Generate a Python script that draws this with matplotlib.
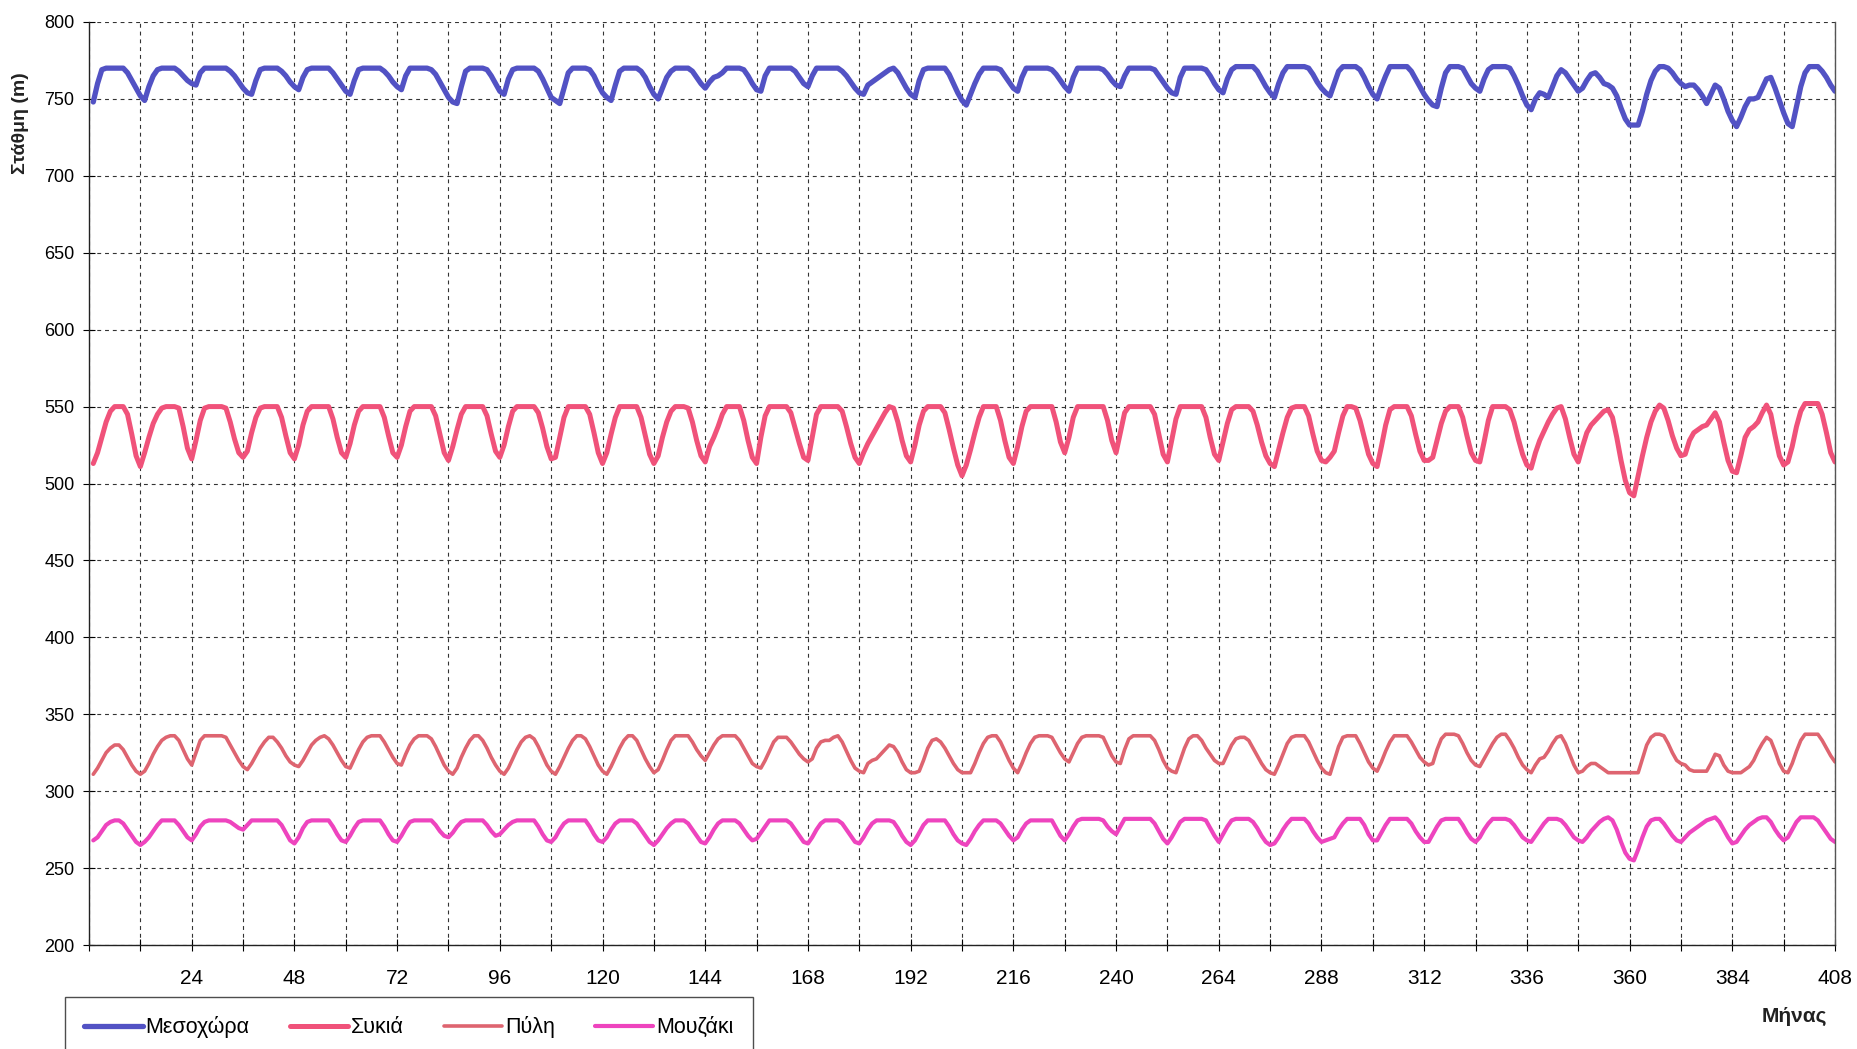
import numpy as np
import matplotlib
matplotlib.use("Agg")
import matplotlib.pyplot as plt
from matplotlib.ticker import MultipleLocator, FixedLocator

plt.rcParams['font.family'] = ['Liberation Sans', 'DejaVu Sans']

SERIES_NAMES = ["Μεσοχώρα", "Συκιά", "Πύλη", "Μουζάκι"]
X_TICKS = [24, 48, 72, 96, 120, 144, 168, 192, 216, 240, 264, 288, 312, 336, 360, 384, 408]
Y_TICKS = [200, 250, 300, 350, 400, 450, 500, 550, 600, 650, 700, 750, 800]

MESOCHORA = [
    748, 760, 769, 770, 770, 770, 770, 770, 767, 762, 757, 752,
    749, 758, 765, 769, 770, 770, 770, 770, 768, 765, 762, 760,
    759, 767, 770, 770, 770, 770, 770, 770, 768, 765, 761, 757,
    754, 753, 762, 769, 770, 770, 770, 770, 768, 765, 761, 758,
    756, 764, 769, 770, 770, 770, 770, 770, 767, 763, 759, 755,
    753, 762, 769, 770, 770, 770, 770, 770, 768, 765, 761, 758,
    756, 765, 770, 770, 770, 770, 770, 769, 766, 761, 756, 751,
    748, 747, 758, 768, 770, 770, 770, 770, 769, 765, 760, 755,
    753, 763, 769, 770, 770, 770, 770, 770, 768, 763, 757, 751,
    749, 747, 757, 767, 770, 770, 770, 770, 769, 765, 759, 754,
    751, 749, 759, 768, 770, 770, 770, 770, 768, 764, 758, 753,
    750, 757, 764, 768, 770, 770, 770, 770, 768, 764, 760, 757,
    761, 764, 765, 767, 770, 770, 770, 770, 769, 765, 760, 756,
    755, 765, 770, 770, 770, 770, 770, 770, 768, 764, 760, 758,
    765, 770, 770, 770, 770, 770, 770, 768, 765, 761, 757, 754,
    753, 759, 761, 763, 765, 767, 769, 770, 767, 762, 757, 753,
    751, 762, 769, 770, 770, 770, 770, 770, 766, 760, 754, 749,
    746, 753, 760, 766, 770, 770, 770, 770, 769, 765, 761, 757,
    755, 764, 770, 770, 770, 770, 770, 770, 769, 766, 762, 758,
    755, 764, 770, 770, 770, 770, 770, 770, 769, 766, 762, 759,
    758, 765, 770, 770, 770, 770, 770, 770, 769, 765, 761, 757,
    754, 753, 764, 770, 770, 770, 770, 770, 769, 765, 760, 756,
    754, 763, 769, 771, 771, 771, 771, 771, 768, 763, 758, 754,
    751, 760, 767, 771, 771, 771, 771, 771, 770, 766, 761, 757,
    754, 752, 760, 768, 771, 771, 771, 771, 769, 764, 758, 753,
    750, 758, 765, 771, 771, 771, 771, 771, 768, 763, 758, 753,
    749, 746, 745, 757, 767, 771, 771, 771, 770, 765, 760, 757,
    755, 763, 769, 771, 771, 771, 771, 770, 765, 759, 752, 746,
    743, 750, 754, 753, 751, 758, 765, 769, 767, 763, 759, 755,
    757, 762, 766, 767, 764, 760, 759, 757, 752, 744, 737, 733,
    733, 733, 742, 753, 762, 768, 771, 771, 770, 767, 763, 760,
    758, 759, 759, 756, 752, 747, 753, 759, 757, 750, 742, 736,
    732, 738, 745, 750, 750, 751, 757, 763, 764, 757, 749, 741,
    734, 732, 745, 758, 767, 771, 771, 771, 768, 764, 759, 755,
]

SYKIA = [
    513, 520, 530, 540, 547, 550, 550, 550, 545, 532, 518, 511,
    520, 530, 539, 545, 549, 550, 550, 550, 549, 537, 523, 516,
    528, 541, 549, 550, 550, 550, 550, 549, 540, 529, 520, 517,
    521, 533, 543, 549, 550, 550, 550, 550, 543, 531, 520, 516,
    525, 538, 547, 550, 550, 550, 550, 550, 542, 530, 520, 517,
    526, 538, 547, 550, 550, 550, 550, 550, 543, 531, 520, 517,
    525, 537, 547, 550, 550, 550, 550, 550, 544, 532, 520, 515,
    524, 535, 545, 550, 550, 550, 550, 550, 544, 532, 521, 517,
    525, 537, 547, 550, 550, 550, 550, 550, 546, 536, 524, 516,
    517, 530, 543, 550, 550, 550, 550, 550, 545, 533, 520, 513,
    520, 532, 543, 550, 550, 550, 550, 550, 543, 531, 519, 513,
    518, 530, 540, 547, 550, 550, 550, 549, 540, 528, 518, 514,
    524, 530, 537, 545, 550, 550, 550, 550, 541, 528, 517, 513,
    530, 544, 550, 550, 550, 550, 550, 546, 536, 526, 517, 515,
    530, 545, 550, 550, 550, 550, 550, 547, 537, 526, 517, 513,
    520, 526, 531, 536, 541, 546, 550, 549, 540, 528, 518, 514,
    525, 538, 547, 550, 550, 550, 550, 546, 535, 523, 512, 505,
    512, 522, 533, 543, 550, 550, 550, 550, 541, 528, 517, 513,
    524, 537, 547, 550, 550, 550, 550, 550, 550, 540, 527, 520,
    530, 543, 550, 550, 550, 550, 550, 550, 550, 541, 528, 520,
    533, 546, 550, 550, 550, 550, 550, 550, 545, 532, 519, 514,
    528, 542, 550, 550, 550, 550, 550, 550, 543, 530, 519, 515,
    527, 539, 548, 550, 550, 550, 550, 547, 538, 527, 518, 513,
    511, 522, 533, 543, 549, 550, 550, 550, 544, 532, 521, 515,
    514, 517, 521, 533, 544, 550, 550, 549, 541, 530, 519, 513,
    511, 524, 538, 548, 550, 550, 550, 550, 544, 532, 521, 515,
    515, 517, 528, 539, 547, 550, 550, 550, 543, 531, 520, 515,
    514, 527, 541, 550, 550, 550, 550, 548, 540, 529, 519, 512,
    510, 520, 528, 534, 540, 545, 549, 550, 542, 530, 519, 514,
    524, 533, 538, 541, 544, 547, 548, 543, 530, 515, 502, 494,
    492, 505, 518, 530, 540, 547, 551, 549, 541, 531, 523, 518,
    519, 528, 533, 535, 537, 538, 542, 546, 540, 527, 515, 508,
    507, 518, 530, 535, 537, 540, 546, 551, 545, 531, 518, 512,
    514, 524, 537, 547, 552, 552, 552, 552, 545, 533, 520, 514,
]

PYLI = [
    311, 315, 320, 325, 328, 330, 330, 327, 322, 317, 313, 311,
    313, 318, 324, 329, 333, 335, 336, 336, 333, 327, 321, 317,
    325, 333, 336, 336, 336, 336, 336, 335, 330, 325, 320, 316,
    314, 318, 323, 328, 332, 335, 335, 332, 328, 323, 319, 317,
    316, 320, 325, 330, 333, 335, 336, 334, 330, 325, 320, 316,
    315, 321, 327, 332, 335, 336, 336, 336, 332, 327, 322, 318,
    317, 324, 330, 334, 336, 336, 336, 334, 329, 323, 317, 313,
    311, 315, 322, 328, 333, 336, 336, 333, 328, 322, 317, 313,
    311, 315, 321, 327, 332, 335, 336, 334, 329, 323, 317, 313,
    311, 316, 322, 328, 333, 336, 336, 334, 329, 323, 317, 313,
    311, 316, 322, 328, 333, 336, 336, 333, 327, 321, 316, 312,
    314, 320, 327, 333, 336, 336, 336, 336, 332, 327, 323, 320,
    325, 330, 334, 336, 336, 336, 336, 333, 328, 323, 318, 316,
    315, 320, 326, 332, 335, 335, 335, 332, 328, 324, 321, 319,
    321, 328, 332, 333, 333, 335, 336, 332, 326, 320, 315, 313,
    312, 318, 320, 321, 324, 327, 330, 329, 325, 319, 314, 312,
    312, 313, 320, 328, 333, 334, 332, 328, 323, 318, 314, 312,
    312, 312, 318, 325, 331, 335, 336, 336, 332, 326, 320, 315,
    312, 318, 325, 331, 335, 336, 336, 336, 335, 330, 325, 321,
    319, 325, 331, 335, 336, 336, 336, 336, 335, 329, 323, 319,
    318, 327, 334, 336, 336, 336, 336, 336, 333, 327, 320, 315,
    313, 312, 320, 328, 334, 336, 336, 333, 328, 324, 320, 318,
    318, 324, 330, 334, 335, 335, 333, 328, 323, 318, 314, 312,
    311, 317, 324, 331, 335, 336, 336, 336, 332, 326, 320, 315,
    312, 311, 320, 329, 335, 336, 336, 336, 331, 325, 319, 315,
    313, 319, 326, 332, 336, 336, 336, 336, 332, 327, 322, 319,
    317, 318, 327, 334, 337, 337, 337, 336, 331, 325, 320, 317,
    316, 321, 326, 331, 335, 337, 337, 333, 328, 322, 317, 314,
    312, 317, 321, 322, 326, 331, 335, 336, 331, 324, 317, 312,
    313, 316, 318, 318, 316, 314, 312, 312, 312, 312, 312, 312,
    312, 312, 321, 330, 335, 337, 337, 336, 331, 325, 320, 318,
    317, 314, 313, 313, 313, 313, 318, 324, 323, 317, 313, 312,
    312, 312, 314, 316, 320, 326, 331, 335, 333, 326, 318, 313,
    312, 318, 326, 333, 337, 337, 337, 337, 333, 328, 323, 319,
]

MOUZAKI = [
    268, 270, 274, 278, 280, 281, 281, 279, 275, 271, 267, 265,
    267, 270, 274, 278, 281, 281, 281, 281, 278, 274, 270, 268,
    272, 277, 280, 281, 281, 281, 281, 281, 280, 278, 276, 275,
    278, 281, 281, 281, 281, 281, 281, 281, 278, 273, 268, 266,
    270, 276, 280, 281, 281, 281, 281, 281, 277, 272, 268, 267,
    271, 276, 280, 281, 281, 281, 281, 281, 277, 272, 268, 267,
    271, 276, 280, 281, 281, 281, 281, 281, 278, 274, 271, 270,
    273, 277, 280, 281, 281, 281, 281, 281, 278, 274, 271, 272,
    275, 278, 280, 281, 281, 281, 281, 281, 277, 272, 268, 267,
    270, 275, 279, 281, 281, 281, 281, 281, 277, 272, 268, 267,
    270, 275, 279, 281, 281, 281, 281, 279, 275, 271, 267, 265,
    268, 272, 276, 279, 281, 281, 281, 279, 275, 271, 267, 266,
    270, 275, 279, 281, 281, 281, 281, 279, 275, 271, 268, 269,
    273, 277, 281, 281, 281, 281, 281, 279, 275, 271, 267, 266,
    270, 275, 279, 281, 281, 281, 281, 279, 275, 271, 267, 266,
    270, 275, 279, 281, 281, 281, 281, 280, 276, 271, 267, 265,
    268, 273, 278, 281, 281, 281, 281, 281, 277, 272, 268, 266,
    265, 269, 274, 278, 281, 281, 281, 281, 279, 275, 271, 268,
    270, 275, 279, 281, 281, 281, 281, 281, 281, 276, 271, 268,
    272, 277, 281, 282, 282, 282, 282, 282, 281, 277, 274, 272,
    277, 282, 282, 282, 282, 282, 282, 282, 279, 274, 269, 266,
    270, 275, 280, 282, 282, 282, 282, 282, 281, 276, 271, 267,
    272, 277, 281, 282, 282, 282, 282, 280, 276, 271, 267, 265,
    266, 270, 275, 279, 282, 282, 282, 282, 279, 274, 270, 267,
    268, 269, 270, 275, 279, 282, 282, 282, 282, 278, 272, 268,
    268, 273, 278, 282, 282, 282, 282, 282, 279, 274, 270, 267,
    267, 272, 277, 281, 282, 282, 282, 282, 278, 273, 269, 267,
    270, 275, 279, 282, 282, 282, 282, 281, 278, 274, 270, 268,
    267, 271, 275, 279, 282, 282, 282, 281, 278, 274, 270, 268,
    267, 270, 274, 277, 280, 282, 283, 281, 275, 267, 260, 256,
    255, 262, 270, 277, 281, 282, 282, 279, 275, 271, 268, 267,
    270, 273, 275, 277, 279, 281, 282, 283, 280, 275, 270, 266,
    267, 271, 275, 278, 280, 282, 283, 283, 280, 275, 271, 268,
    270, 275, 280, 283, 283, 283, 283, 281, 277, 273, 269, 267,
]

COLORS = ["#5252C4", "#F0527A", "#DE6470", "#EE44BE"]
WIDTHS = [3.8, 3.6, 2.6, 3.0]

fig = plt.figure(figsize=(18.57, 10.49), dpi=100)
ax = fig.add_axes([89 / 1857, 1 - 945 / 1049, (1835 - 89) / 1857, (945 - 22) / 1049])

for name, data, c, lw in zip(SERIES_NAMES, [MESOCHORA, SYKIA, PYLI, MOUZAKI], COLORS, WIDTHS):
    x = np.arange(1, len(data) + 1)
    ax.plot(x, data, color=c, lw=lw, label=name, solid_joinstyle='round', solid_capstyle='round')

ax.set_xlim(0, 408)
ax.set_ylim(200, 800)
ax.xaxis.set_major_locator(FixedLocator(X_TICKS))
ax.xaxis.set_minor_locator(MultipleLocator(12))
ax.yaxis.set_major_locator(FixedLocator(Y_TICKS))
ax.grid(True, which='both', axis='x', linestyle=(0, (3.5, 3.5)), color='#333333', lw=0.8)
ax.grid(True, which='major', axis='y', linestyle=(0, (3.5, 3.5)), color='#333333', lw=0.8)
ax.set_axisbelow(True)

ax.tick_params(axis='x', which='both', direction='inout', length=9, width=0.8, labelsize=15, pad=13)
ax.tick_params(axis='y', which='major', direction='inout', length=9, width=0.8, labelsize=13, pad=6)
for s in ['left', 'bottom']:
    ax.spines[s].set_color('#222222')
    ax.spines[s].set_linewidth(1.0)
ax.spines['top'].set_visible(False)
ax.spines['right'].set_color('#555555')
ax.spines['right'].set_linewidth(1.0)

fig.text(21 / 1857, 1 - 123 / 1049, "Στάθμη (m)", rotation=90, ha='center', va='center',
         fontsize=14, fontweight='bold', color='#222222')
fig.text(1794 / 1857, 1 - 1016 / 1049, "Μήνας", ha='center', va='center',
         fontsize=15, fontweight='bold', color='#222222')

leg = fig.legend(loc='upper left', bbox_to_anchor=(65 / 1857, 1 - 997 / 1049), ncol=4,
                 fontsize=15.5, handlelength=2.7, handletextpad=0.15, columnspacing=1.85,
                 frameon=True, fancybox=False, borderpad=0.9, borderaxespad=0)
leg.get_frame().set_edgecolor('#222222')
leg.get_frame().set_linewidth(1.0)

fig.savefig("out.png", dpi=100)
